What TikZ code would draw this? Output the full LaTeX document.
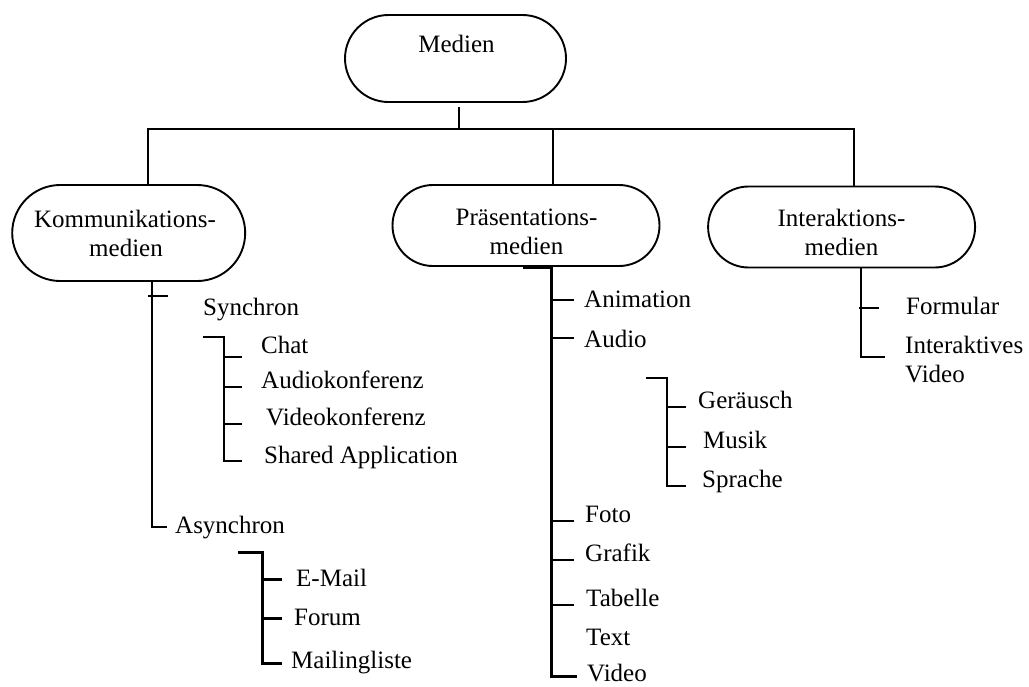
\documentclass[tikz,border=0pt]{standalone}
\usepackage{fontspec}
\setmainfont{Liberation Serif}
\usetikzlibrary{shapes.misc}
\begin{document}
\begin{tikzpicture}[x=1pt,y=-1pt,
  every node/.style={font=\fontsize{25}{29}\selectfont},
  stadium/.style={rounded rectangle, draw, line width=1.9pt, inner sep=0pt},
  item/.style={anchor=base west, inner sep=0pt},
  caption/.style={anchor=base, inner sep=0pt},
  branch/.style={line width=1.7pt},
  midline/.style={line width=2.1pt},
  heavy/.style={line width=3pt},
]
\useasboundingbox[fill=white] (0,0) rectangle (1029,686);

% ---------- boxes ----------
\node[stadium, minimum width=221pt, minimum height=87pt] (medien) at (455.5,58.5) {};
\node[caption] (medienT) at (456.5,52) {Medien};

\node[stadium, minimum width=233pt, minimum height=96pt] (komm) at (128.7,233) {};
\node[caption] (kommT1) at (125,227) {Kommunikations-};
\node[caption] (kommT2) at (126,256) {medien};

\node[stadium, minimum width=267pt, minimum height=81pt] (pres) at (526,225.5) {};
\node[caption] (presT1) at (526.5,225) {Präsentations-};
\node[caption] (presT2) at (526.5,254) {medien};

\node[stadium, minimum width=267pt, minimum height=81pt] (inter) at (841.6,227) {};
\node[caption] (interT1) at (841.5,226) {Interaktions-};
\node[caption] (interT2) at (841.5,255) {medien};

% ---------- top level connectors ----------
\coordinate (root) at (459,107);
\coordinate (hub) at (459,129);
\draw[branch] (root) -- (hub);
\draw[branch] (hub) -| (komm.north -| 148,0);
\draw[branch] (hub) -| (pres.north -| 553,0);
\draw[branch] (hub) -| (inter.north -| 854,0);

% ---------- Kommunikationsmedien ----------
\node[item] (sync) at (203,315) {Synchron};
\node[item] (chat) at (261,353) {Chat};
\node[item] (audk) at (261,388) {Audiokonferenz};
\node[item] (vidk) at (266,425) {Videokonferenz};
\node[item] (shap) at (264,463) {Shared Application};
\node[item] (async) at (175,533) {Asynchron};
\node[item] (mail) at (296,586) {E-Mail};
\node[item] (forum) at (294,625) {Forum};
\node[item] (mlist) at (291,668) {Mailingliste};

\draw[branch] (komm.south -| 152,0) |- (167,527);
\draw[branch] (148,296) -- (168,296);

\draw[branch] (203,337) -| (224,461) -- (242,461);
\foreach \yy in {357,387,424}
  \draw[branch] (224,\yy) -- (242,\yy);

\draw[heavy] (238,552) -| (262,663) -- (282,663);
\foreach \yy in {579,618}
  \draw[heavy] (262,\yy) -- (282,\yy);

% ---------- Präsentationsmedien ----------
\node[item] (anim) at (584,307) {Animation};
\node[item] (audio) at (584,347) {Audio};
\node[item] (geräusch) at (698,408) {Geräusch};
\node[item] (musik) at (703,448) {Musik};
\node[item] (sprache) at (702,487) {Sprache};
\node[item] (foto) at (585,522) {Foto};
\node[item] (grafik) at (585,561) {Grafik};
\node[item] (tabelle) at (586,606) {Tabelle};
\node[item] (text) at (586,645) {Text};
\node[item] (video) at (587,681) {Video};

\draw[heavy] (523,267) -- (551,267) -- (551,676) -- (577,676);
\foreach \yy in {300,338,521,560,605}
  \draw[branch] (551,\yy) -- (574,\yy);

\draw[midline] (646,378) -| (667,486) -- (686,486);
\foreach \yy in {407,447}
  \draw[midline] (667,\yy) -- (686,\yy);

% ---------- Interaktionsmedien ----------
\node[item] (formular) at (906,314) {Formular};
\node[item] (ivideo1) at (905,353) {Interaktives};
\node[item] (ivideo2) at (905,382) {Video};

\draw[branch] (inter.south -| 861,0) |- (885,357);
\draw[branch] (859,308) -- (879,308);
\end{tikzpicture}
\end{document}
